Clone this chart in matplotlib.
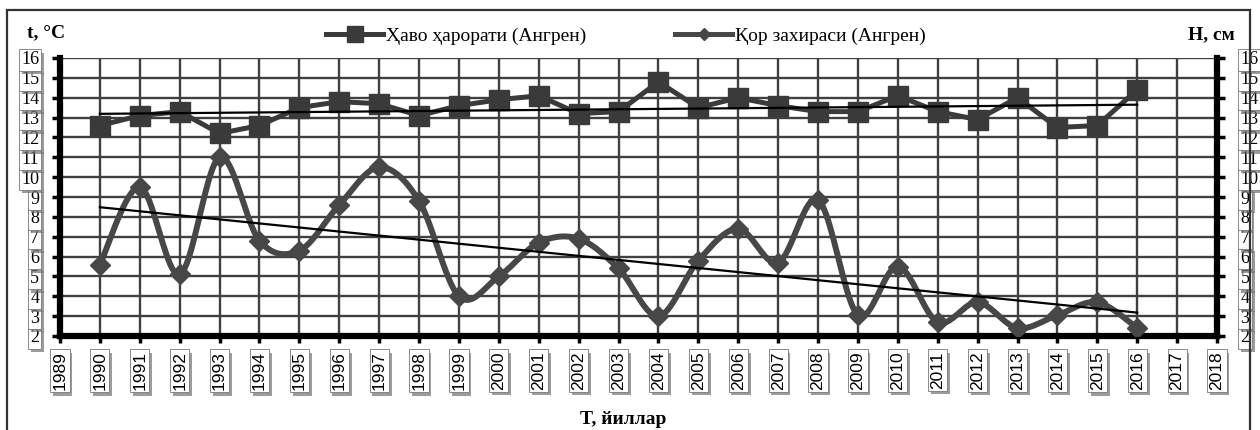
import matplotlib
matplotlib.use("Agg")
import matplotlib.pyplot as plt
import matplotlib.patheffects as pe
from matplotlib.lines import Line2D
from matplotlib.patches import Rectangle
import numpy as np

# Angren station, 1990-2016
years = list(range(1990, 2017))
air_temp = [12.6, 13.1, 13.3, 12.2, 12.6, 13.5, 13.8, 13.7, 13.1, 13.6,
            13.9, 14.1, 13.2, 13.3, 14.8, 13.5, 14.0, 13.6, 13.3, 13.3,
            14.1, 13.3, 12.9, 14.0, 12.5, 12.6, 14.4]
snow_depth = [5.6, 9.5, 5.1, 11.0, 6.8, 6.3, 8.6, 10.5, 8.8, 4.0,
              5.0, 6.7, 6.9, 5.4, 3.0, 5.8, 7.4, 5.7, 8.85, 3.05,
              5.5, 2.7, 3.7, 2.4, 3.05, 3.7, 2.4]
axis_years = list(range(1989, 2019))
value_ticks = list(range(2, 17))

temp_label = "Ҳаво ҳарорати (Ангрен)"
snow_label = "Қор захираси (Ангрен)"

SERIF = ["Liberation Serif", "DejaVu Serif"]
SANS = ["Liberation Sans", "DejaVu Sans"]
DARK = "#3a3a3a"


def smooth(x, y, steps=24):
    """Catmull-Rom curve through the points (spreadsheet-style smoothed line)."""
    px = np.asarray(x, float)
    py = np.asarray(y, float)
    px = np.concatenate([[px[0]], px, [px[-1]]])
    py = np.concatenate([[py[0]], py, [py[-1]]])
    t = np.linspace(0, 1, steps, endpoint=False)[:, None]
    out = []
    for i in range(1, len(px) - 2):
        p0, p1, p2, p3 = (np.array([px[j], py[j]]) for j in range(i - 1, i + 3))
        seg = 0.5 * (2 * p1 + (p2 - p0) * t
                     + (2 * p0 - 5 * p1 + 4 * p2 - p3) * t ** 2
                     + (-p0 + 3 * p1 - 3 * p2 + p3) * t ** 3)
        out.append(seg)
    out.append(np.array([[px[-2], py[-2]]]))
    out = np.vstack(out)
    return out[:, 0], out[:, 1]


def trend(x, y):
    k, b = np.polyfit(x, y, 1)
    xs = np.array([x[0], x[-1]], float)
    return xs, k * xs + b


def boxed(labels):
    for lab in labels:
        lab.set_bbox(dict(boxstyle="square,pad=0.12", fc="white", ec="#777777", lw=0.6))
        lab.get_bbox_patch().set_path_effects(
            [pe.SimplePatchShadow(offset=(2, -2.5), shadow_rgbFace="0.45", alpha=0.7),
             pe.Normal()])


fig = plt.figure(figsize=(12.6, 4.3), dpi=100)
ax = fig.add_axes([60 / 1260, 1 - 336 / 430, (1217 - 60) / 1260, (336 - 58) / 430])
ax2 = ax.twinx()

ax.set_xlim(1989, 2018)
ax.set_ylim(2, 16)
ax2.set_ylim(2, 16)

ax.grid(True, color="#404040", lw=1.7)
ax.set_axisbelow(True)

# air temperature: squares + linear trend
ax.plot(years, air_temp, color=DARK, lw=3.6, marker="s", ms=15,
        mfc=DARK, mec=DARK, zorder=3)
tx, ty = trend(years, air_temp)
ax.plot(tx, ty, color="black", lw=1.6, zorder=4)

# snow depth: smoothed line with diamonds + linear trend
sx, sy = smooth(years, snow_depth)
ax2.plot(sx, sy, color="#474747", lw=4.3, zorder=3, solid_capstyle="round")
ax2.plot(years, snow_depth, ls="none", marker="D", ms=10, mfc="#474747",
         mec="#474747", zorder=3)
tx, ty = trend(years, snow_depth)
ax2.plot(tx, ty, color="black", lw=1.6, zorder=4)

for a in (ax, ax2):
    for s in a.spines.values():
        s.set_visible(False)
ax.spines["left"].set_visible(True)
ax.spines["left"].set_linewidth(4.5)
ax.spines["bottom"].set_visible(True)
ax.spines["bottom"].set_linewidth(4.5)
ax2.spines["right"].set_visible(True)
ax2.spines["right"].set_linewidth(4.5)

ax.set_xticks(axis_years)
ax.set_xticklabels([str(y) for y in axis_years], rotation=90,
                   fontfamily=SANS, fontsize=12.5)
ax.set_yticks(value_ticks)
ax.set_yticklabels([str(v) for v in value_ticks], fontfamily=SERIF, fontsize=13)
ax2.set_yticks(value_ticks)
ax2.set_yticklabels([str(v) for v in value_ticks], fontfamily=SERIF, fontsize=13)

ax.tick_params(axis="x", direction="out", length=5, width=2.5, pad=6)
ax.tick_params(axis="y", direction="out", length=6, width=2.5, pad=9)
ax2.tick_params(axis="y", direction="out", length=6, width=2.5, pad=11)
boxed(ax.get_xticklabels())
boxed(ax.get_yticklabels())
boxed(ax2.get_yticklabels())

handles = [
    Line2D([], [], color=DARK, lw=3.6, marker="s", ms=11, mfc=DARK, mec=DARK),
    Line2D([], [], color="#474747", lw=3.6, marker="D", ms=6, mfc="#474747", mec="#474747"),
]
fig.legend(handles, [temp_label, snow_label], loc="center", ncol=2,
           bbox_to_anchor=(626 / 1260, 1 - 36 / 430), frameon=False,
           prop={"family": SERIF, "size": 14}, handlelength=2.9,
           handletextpad=0.15, columnspacing=4.6)

fig.text(27 / 1260, 1 - 33 / 430, "t, °C", fontfamily=SERIF, fontsize=14,
         fontweight="bold", ha="left", va="center")
fig.text(1235 / 1260, 1 - 35 / 430, "H, см", fontfamily=SERIF, fontsize=14,
         fontweight="bold", ha="right", va="center")
fig.text(623 / 1260, 1 - 420 / 430, "T, йиллар", fontfamily=SERIF, fontsize=14,
         fontweight="bold", ha="center", va="center")

fig.patches.append(Rectangle((7 / 1260, -0.05), (1250 - 7) / 1260, 1.05 - 10 / 430,
                             transform=fig.transFigure, fill=False,
                             ec="#333333", lw=1.6))

fig.savefig("out.png", dpi=100)
